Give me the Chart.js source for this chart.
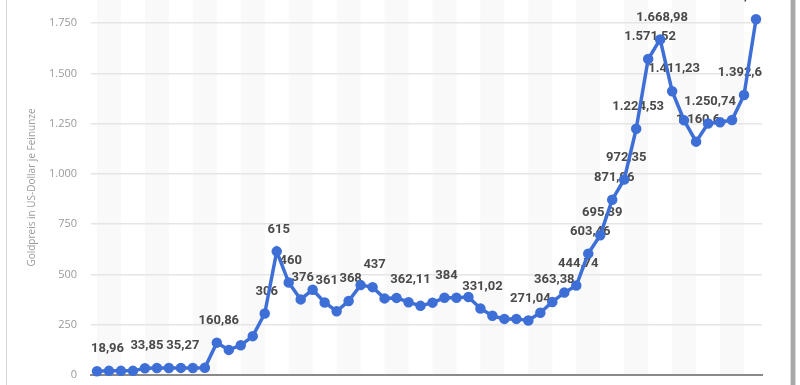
<!DOCTYPE html>
<html><head><meta charset="utf-8">
<script src="https://cdn.jsdelivr.net/npm/chart.js@4.4.0/dist/chart.umd.min.js"></script>
<style>html,body{margin:0;padding:0;background:#fff;overflow:hidden}#wrap{position:relative;width:800px;height:385px}</style>
</head><body><div id="wrap"><canvas id="c" width="800" height="385"></canvas></div>
<script>
const years = ['1900','1910','1920','1930','1935','1940','1950','1960','1965','1970',
  '1975','1976','1977','1978','1979','1980','1981','1982','1983','1984','1985','1986','1987','1988','1989',
  '1990','1991','1992','1993','1994','1995','1996','1997','1998','1999','2000','2001','2002','2003','2004',
  '2005','2006','2007','2008','2009','2010','2011','2012','2013','2014','2015','2016','2017','2018','2019','2020'];
const goldPrice = [18.96, 20.67, 20.67, 20.67, 33.85, 34.5, 35, 35.27, 35.2, 35.96,
  160.86, 124.84, 147.71, 193.22, 306, 615, 460, 376, 424, 361, 317, 368, 447, 437, 381,
  383.51, 362.11, 343.82, 359.77, 384, 384.17, 387.77, 331.02, 294.24, 278.98, 279.11, 271.04, 309.73, 363.38, 409.72,
  444.74, 603.46, 695.39, 871.96, 972.35, 1224.53, 1571.52, 1668.98, 1411.23, 1266.4, 1160.6, 1250.74, 1257.12, 1268.49, 1392.6, 1769.64];
const labeledIdx = [0,4,7,10,14,15,16,17,19,21,23,26,29,32,36,38,40,41,42,43,44,45,46,47,48,50,51,54,55];
const yTickValues = [0,250,500,750,1000,1250,1500,1750];
const yTitle = 'Goldpreis in US-Dollar je Feinunze';

function fmtDE(v){
  const s = String(v);
  const parts = s.split('.');
  const ii = parts[0].replace(/\B(?=(\d{3})+(?!\d))/g,'.');
  return parts[1] ? ii + ',' + parts[1] : ii;
}

const stripes = {
  id:'stripes',
  beforeDraw(chart){
    const {ctx, chartArea:a, scales:{x}} = chart;
    const n = years.length;
    ctx.save();
    ctx.fillStyle = '#f9f9f9';
    for(let i=0;i<n;i+=4){
      const x1 = x.getPixelForValue(i), x2 = x.getPixelForValue(Math.min(i+2,n-1));
      ctx.fillRect(x1, a.top, x2-x1, a.bottom-a.top);
    }
    ctx.restore();
  }
};
const valueLabels = {
  id:'valueLabels',
  beforeDatasetsDraw(chart){
    const {ctx, chartArea:a} = chart;
    const meta = chart.getDatasetMeta(0);
    ctx.save();
    ctx.font = 'bold 13px Roboto';
    ctx.fillStyle = '#4a4a4a';
    ctx.textAlign = 'center';
    ctx.textBaseline = 'middle';
    labeledIdx.forEach(i=>{
      const p = meta.data[i];
      const t = fmtDE(goldPrice[i]);
      const w = ctx.measureText(t).width;
      let x = p.x + 2;
      x = Math.max(a.left + w/2, Math.min(a.right - w/2, x));
      ctx.fillText(t, x, p.y - 22);
    });
    ctx.restore();
  }
};
const frame = {
  id:'frame',
  afterDraw(chart){
    const ctx = chart.ctx;
    ctx.save();
    ctx.fillStyle = '#d4d4d4';
    ctx.fillRect(6,0,1,385);
    ctx.fillStyle = '#dadada';
    ctx.fillRect(790,0,1,385);
    ctx.fillRect(795,0,1,385);
    ctx.fillStyle = '#a8a8a8';
    ctx.fillRect(791,0,4,385);
    ctx.restore();
  }
};

new Chart(document.getElementById('c'), {
  type:'line',
  data:{labels:years, datasets:[{
    data:goldPrice,
    borderColor:'#3d6fd6', backgroundColor:'#3d6fd6',
    borderWidth:3.5, pointRadius:3.5, pointHoverRadius:3.5, tension:0, clip:false
  }]},
  options:{
    responsive:false, animation:false,
    layout:{autoPadding:false, padding:{left:0,right:38,top:0,bottom:10}},
    plugins:{legend:{display:false}, tooltip:{enabled:false}},
    scales:{
      x:{type:'category', offset:true, grid:{display:false, drawTicks:false},
         border:{display:true,color:'#8a8a8a',width:2}, ticks:{display:false}},
      y:{min:0, max:1865,
         afterBuildTicks(s){ s.ticks = yTickValues.map(v=>({value:v})); },
         afterFit(s){ s.width = 91; s.paddingTop = 0; s.paddingBottom = 0; },
         ticks:{callback:v=>fmtDE(v), color:'#9a9a9a', font:{family:'Open Sans', size:11}, padding:14},
         grid:{color:'#e5e5e5', lineWidth:1.5, drawTicks:false},
         border:{display:false},
         title:{display:true, text:yTitle, color:'#9a9a9a', font:{family:'Open Sans', size:10}, padding:{top:26,bottom:0}}
      }
    }
  },
  plugins:[stripes, valueLabels, frame]
});
</script></body></html>
